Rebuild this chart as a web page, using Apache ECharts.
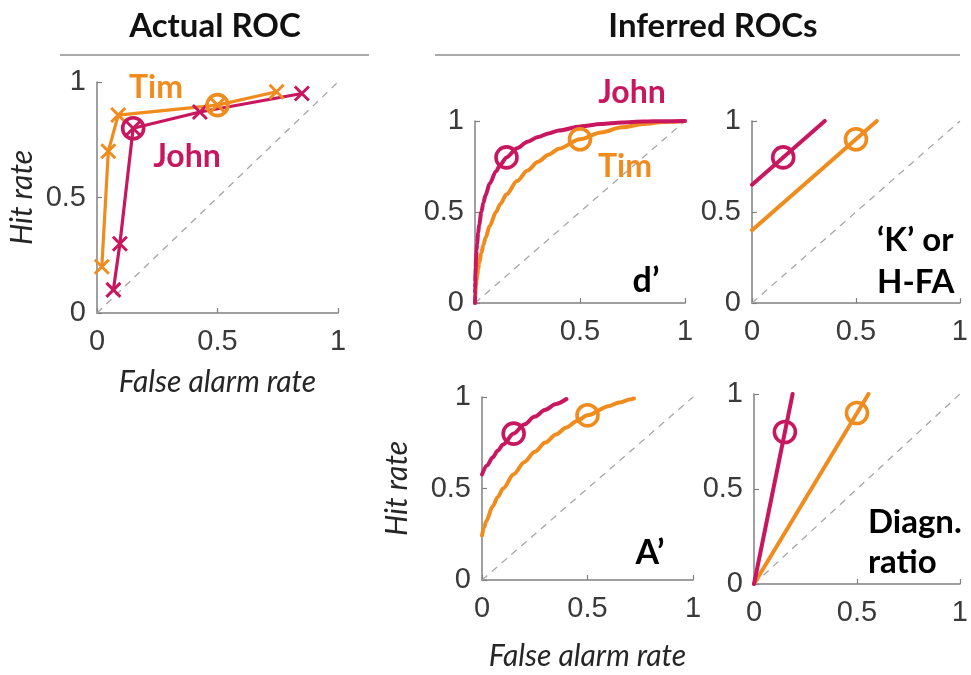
<!DOCTYPE html>
<html>
<head>
<meta charset="utf-8">
<script src="https://cdn.jsdelivr.net/npm/echarts@6/dist/echarts.min.js"></script>
<style>
html,body{margin:0;padding:0;background:#fff;}
#chart{width:971px;height:675px;}
</style>
</head>
<body>
<div id="chart"></div>
<script>
// ---------- data ----------
const axisTicks = [0, 0.5, 1];
const diagonal = [[0, 0], [1, 1]];

// Actual ROC (left panel)
const timActualFA   = [0.02, 0.047, 0.088, 0.5, 0.745];
const timActualHit  = [0.2, 0.70, 0.857, 0.9, 0.958];
const johnActualFA  = [0.068, 0.095, 0.15, 0.427, 0.85];
const johnActualHit = [0.10, 0.30, 0.8, 0.87, 0.95];

// Observed operating points (circles)
const johnPoint = [0.15, 0.8];
const timPoint  = [0.5, 0.9];

// d' isosensitivity curves
const dFA      = [0, 0.0002, 0.0005, 0.001, 0.002, 0.003, 0.005, 0.0075, 0.01, 0.015, 0.02, 0.03, 0.04, 0.05, 0.07, 0.1, 0.12, 0.15, 0.2, 0.25, 0.3, 0.35, 0.4, 0.5, 0.6, 0.7, 0.8, 0.9, 1];
const johnDHit = [0, 0.048, 0.079, 0.113, 0.159, 0.192, 0.243, 0.290, 0.327, 0.385, 0.430, 0.499, 0.551, 0.592, 0.656, 0.724, 0.759, 0.80, 0.850, 0.886, 0.912, 0.932, 0.948, 0.970, 0.983, 0.992, 0.997, 0.999, 1];
const timDHit  = [0, 0.012, 0.022, 0.035, 0.055, 0.071, 0.098, 0.125, 0.148, 0.187, 0.220, 0.275, 0.319, 0.358, 0.423, 0.5, 0.543, 0.597, 0.670, 0.728, 0.776, 0.815, 0.848, 0.9, 0.937, 0.965, 0.983, 0.995, 1];

// 'K' or H-FA lines
const johnKFA  = [0, 0.35];
const johnKHit = [0.65, 1];
const timKFA   = [0, 0.6];
const timKHit  = [0.4, 1];

// A' curves
const johnAFA  = [0, 0.025, 0.05, 0.075, 0.1, 0.15, 0.2, 0.25, 0.3, 0.35, 0.4];
const johnAHit = [0.577, 0.627, 0.669, 0.707, 0.741, 0.8, 0.85, 0.893, 0.930, 0.962, 0.989];
const timAFA   = [0, 0.01, 0.02, 0.05, 0.075, 0.1, 0.15, 0.2, 0.25, 0.3, 0.35, 0.4, 0.45, 0.5, 0.6, 0.65, 0.7, 0.72];
const timAHit  = [0.244, 0.287, 0.321, 0.401, 0.454, 0.5, 0.578, 0.644, 0.701, 0.751, 0.795, 0.834, 0.869, 0.9, 0.950, 0.970, 0.986, 0.992];

// Diagnostic ratio lines
const johnRFA  = [0, 0.1875];
const johnRHit = [0, 1];
const timRFA   = [0, 0.556];
const timRHit  = [0, 1];

// ---------- styling ----------
const JOHN = '#c8175e';
const TIM  = '#f08c1e';
const AXIS = '#808080';
const TXT  = '#3a3a3a';

const zip = (a, b) => a.map((v, i) => [v, b[i]]);

const grids = [
  {left: 97,  top: 82,  width: 241, height: 231},
  {left: 475, top: 121, width: 210, height: 182},
  {left: 752, top: 121, width: 211, height: 182},
  {left: 482, top: 397, width: 211, height: 183},
  {left: 754, top: 394, width: 211, height: 190}
];

const nameStyle = {fontSize: 30, fontStyle: 'italic', fontFamily: 'Lato', color: '#262626'};

function xAx(i, name, gap) {
  return {
    type: 'value', gridIndex: i, min: axisTicks[0], max: axisTicks[2], interval: 0.5,
    axisLine: {show: true, lineStyle: {color: AXIS, width: 1.5}},
    axisTick: {show: true, inside: true, length: 5, lineStyle: {color: AXIS, width: 1.2}},
    splitLine: {show: false},
    axisLabel: {fontSize: 29, color: TXT, fontFamily: 'Liberation Sans', margin: 14},
    name: name || '', nameLocation: 'middle', nameGap: gap || 0,
    nameTextStyle: nameStyle
  };
}
function yAx(i, name, gap) {
  return {
    type: 'value', gridIndex: i, min: axisTicks[0], max: axisTicks[2], interval: 0.5,
    axisLine: {show: true, lineStyle: {color: AXIS, width: 1.5}},
    axisTick: {show: true, inside: true, length: 5, lineStyle: {color: AXIS, width: 1.2}},
    splitLine: {show: false},
    axisLabel: {fontSize: 29, color: TXT, fontFamily: 'Liberation Sans', margin: 11},
    name: name || '', nameLocation: 'middle', nameGap: gap || 0, nameRotate: 90,
    nameTextStyle: nameStyle
  };
}

const xAxes = [xAx(0, 'False alarm rate', 54), xAx(1), xAx(2), xAx(3, 'False alarm rate', 61), xAx(4)];
const yAxes = [yAx(0, 'Hit rate', 60), yAx(1), yAx(2), yAx(3, 'Hit rate', 70), yAx(4)];

function line(i, data, color, width, smooth) {
  return {type: 'line', xAxisIndex: i, yAxisIndex: i, data: data, showSymbol: false, symbol: 'none',
    smooth: smooth ? 0.3 : false, smoothMonotone: 'x',
    lineStyle: {color: color, width: width || 4, cap: 'round', join: 'round'}, silent: true, animation: false, z: 3};
}
function diag(i) {
  return {type: 'line', xAxisIndex: i, yAxisIndex: i, data: diagonal, symbol: 'none',
    lineStyle: {color: '#a6a6a6', width: 1.3, type: [7, 6]}, silent: true, animation: false, z: 2};
}
function circle(i, pt, color) {
  return {type: 'scatter', xAxisIndex: i, yAxisIndex: i, data: [pt], symbol: 'circle', symbolSize: 21,
    itemStyle: {color: 'rgba(255,255,255,0)', borderColor: color, borderWidth: 3.6, opacity: 1}, silent: true, animation: false, z: 5};
}
function crosses(i, data, color) {
  return {type: 'scatter', xAxisIndex: i, yAxisIndex: i, data: data,
    symbol: 'path://M0,0L10,10M10,0L0,10', symbolSize: 14,
    itemStyle: {color: 'rgba(255,255,255,0)', borderColor: color, borderWidth: 3, opacity: 1}, silent: true, animation: false, z: 4};
}

const series = [];
for (let i = 0; i < 5; i++) series.push(diag(i));
// panel 0: actual
series.push(line(0, zip(timActualFA, timActualHit), TIM, 3.2));
series.push(line(0, zip(johnActualFA, johnActualHit), JOHN, 3.2));
series.push(crosses(0, zip(timActualFA, timActualHit), TIM));
series.push(crosses(0, zip(johnActualFA, johnActualHit), JOHN));
series.push(circle(0, timPoint, TIM));
series.push(circle(0, johnPoint, JOHN));
// panel 1: d'
series.push(line(1, zip(dFA, timDHit), TIM, 4, true));
series.push(line(1, zip(dFA, johnDHit), JOHN, 4, true));
// panel 2: K
series.push(line(2, zip(timKFA, timKHit), TIM));
series.push(line(2, zip(johnKFA, johnKHit), JOHN));
// panel 3: A'
series.push(line(3, zip(timAFA, timAHit), TIM, 4, true));
series.push(line(3, zip(johnAFA, johnAHit), JOHN, 4, true));
// panel 4: diagnostic ratio
series.push(line(4, zip(timRFA, timRHit), TIM));
series.push(line(4, zip(johnRFA, johnRHit), JOHN));
for (let i = 1; i < 5; i++) {
  series.push(circle(i, timPoint, TIM));
  series.push(circle(i, johnPoint, JOHN));
}

function txt(text, x, y, opts) {
  return {type: 'text', x: x, y: y, z: 10, silent: true,
    style: Object.assign({text: text, fontFamily: 'Lato', fontWeight: 'bold', fontSize: 33,
      fill: '#000', align: 'center', verticalAlign: 'middle'}, opts || {})};
}

const graphic = [
  txt('Actual ROC', 215, 26, {fontSize: 33, fill: '#111'}),
  txt('Inferred ROCs', 713, 26, {fontSize: 33, fill: '#111'}),
  {type: 'line', silent: true, shape: {x1: 60, y1: 55, x2: 369, y2: 55}, style: {stroke: '#8c8c8c', lineWidth: 1.5}},
  {type: 'line', silent: true, shape: {x1: 435, y1: 55, x2: 960, y2: 55}, style: {stroke: '#8c8c8c', lineWidth: 1.5}},
  txt('Tim', 156, 88, {fill: TIM, fontSize: 32}),
  txt('John', 187, 157, {fill: JOHN, fontSize: 32}),
  txt('John', 632, 93, {fill: JOHN, fontSize: 32}),
  txt('Tim', 625, 167, {fill: TIM, fontSize: 32}),
  txt('d\u2019', 646, 281, {fontSize: 34}),
  txt('\u2018K\u2019 or', 877, 240, {fontSize: 33, align: 'left'}),
  txt('H-FA', 877, 282, {fontSize: 33, align: 'left'}),
  txt('A\u2019', 650, 553, {fontSize: 34}),
  txt('Diagn.', 868, 522, {fontSize: 33, align: 'left'}),
  txt('ratio', 868, 562, {fontSize: 33, align: 'left'})
];

const chart = echarts.init(document.getElementById('chart'), null, {renderer: 'canvas'});
chart.setOption({
  animation: false,
  backgroundColor: '#ffffff',
  grid: grids,
  xAxis: xAxes,
  yAxis: yAxes,
  series: series,
  graphic: graphic
});
</script>
</body>
</html>
